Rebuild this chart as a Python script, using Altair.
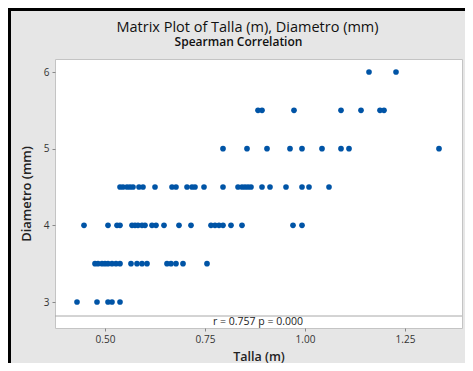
import altair as alt
import pandas as pd

# Talla (m) values per Diametro (mm) level
talla_d30 = [0.43, 0.48, 0.5075, 0.5175, 0.5375]
talla_d35 = [0.475, 0.4825, 0.4925, 0.50, 0.5075, 0.5175, 0.5275, 0.5375,
             0.565, 0.58, 0.5925, 0.605, 0.655, 0.665, 0.6775, 0.695, 0.755]
talla_d40 = [0.4475, 0.5075, 0.53, 0.5375, 0.5675, 0.575, 0.5825, 0.5925, 0.60,
             0.6175, 0.6275, 0.6475, 0.685, 0.715, 0.765, 0.775, 0.785, 0.795,
             0.815, 0.8425, 0.97, 0.9925]
talla_d45 = [0.5375, 0.545, 0.555, 0.5625, 0.57, 0.585, 0.595, 0.625, 0.6675,
             0.6775, 0.705, 0.7175, 0.725, 0.7475, 0.795, 0.8325, 0.8425, 0.85,
             0.8575, 0.865, 0.8925, 0.9125, 0.9525, 0.9925, 1.01, 1.06]
talla_d50 = [0.795, 0.855, 0.905, 0.9625, 0.9925, 1.0425, 1.09, 1.11, 1.335]
talla_d55 = [0.8825, 0.8925, 0.9725, 1.09, 1.14, 1.1875, 1.1975]
talla_d60 = [1.16, 1.2275]

levels = [3.0, 3.5, 4.0, 4.5, 5.0, 5.5, 6.0]
groups = [talla_d30, talla_d35, talla_d40, talla_d45, talla_d50, talla_d55, talla_d60]

x_ticks = [0.50, 0.75, 1.00, 1.25]
y_ticks = [3, 4, 5, 6]

title_text = "Matrix Plot of Talla (m), Diametro (mm)"
subtitle_text = "Spearman Correlation"
stat_text = "r = 0.757  p = 0.000"

rows = []
for lv, g in zip(levels, groups):
    for t in g:
        rows.append({"Talla (m)": t, "Diametro (mm)": lv})
df = pd.DataFrame(rows)

W, H = 407, 269
FONT = "Open Sans"

points = alt.Chart(df).mark_circle(size=32, opacity=1, color="#0054a6").encode(
    x=alt.X("Talla (m):Q",
            scale=alt.Scale(domain=[0.375, 1.3925], nice=False, zero=False),
            axis=alt.Axis(values=x_ticks, format=".2f", title="Talla (m)",
                          grid=False, domain=False, tickSize=3, tickColor="#888",
                          labelFont=FONT, labelFontSize=10, labelColor="#333",
                          labelPadding=3,
                          titleFont=FONT, titleFontSize=12.5, titleFontWeight=600,
                          titleColor="#222", titlePadding=6)),
    y=alt.Y("Diametro (mm):Q",
            scale=alt.Scale(domain=[2.661, 6.17], nice=False, zero=False),
            axis=alt.Axis(values=y_ticks, format="d", title="Diametro (mm)",
                          grid=False, domain=False, tickSize=3, tickColor="#888",
                          labelFont=FONT, labelFontSize=10, labelColor="#333",
                          labelPadding=3,
                          titleFont=FONT, titleFontSize=13, titleFontWeight=600,
                          titleColor="#222", titlePadding=10)),
)

base = alt.Chart(pd.DataFrame({"a": [0]}))

sep = base.mark_rule(color="#a8a8a8", strokeWidth=1).encode(
    x=alt.value(0), x2=alt.value(W), y=alt.value(257))

stat = base.mark_text(font=FONT, fontSize=10.5, color="#222", baseline="middle",
                      align="center").encode(
    x=alt.value(203), y=alt.value(263), text=alt.value(stat_text))

ttl = base.mark_text(font=FONT, fontSize=14.5, color="#111", baseline="alphabetic",
                     align="center").encode(
    x=alt.value(192.5), y=alt.value(-27.5), text=alt.value(title_text))

sub = base.mark_text(font=FONT, fontSize=12, fontWeight=600, color="#111",
                     baseline="alphabetic", align="center").encode(
    x=alt.value(183.5), y=alt.value(-13), text=alt.value(subtitle_text))

frame_top = base.mark_rule(color="black", strokeWidth=3).encode(
    x=alt.value(-47), x2=alt.value(410), y=alt.value(-49.5))
frame_left = base.mark_rule(color="black", strokeWidth=3).encode(
    x=alt.value(-45.5), y=alt.value(-51), y2=alt.value(305))

chart = alt.layer(frame_top, frame_left, sep, points, stat, ttl, sub).properties(
    width=W, height=H,
    padding={"left": 47, "top": 51, "right": 3, "bottom": 35},
    autosize=alt.AutoSizeParams(type="none"),
    background="#e6e6e6",
).configure_view(fill="white", stroke="#c4c4c4", strokeWidth=1)

chart.save("out.html", embed_options={"renderer": "svg", "actions": False})
